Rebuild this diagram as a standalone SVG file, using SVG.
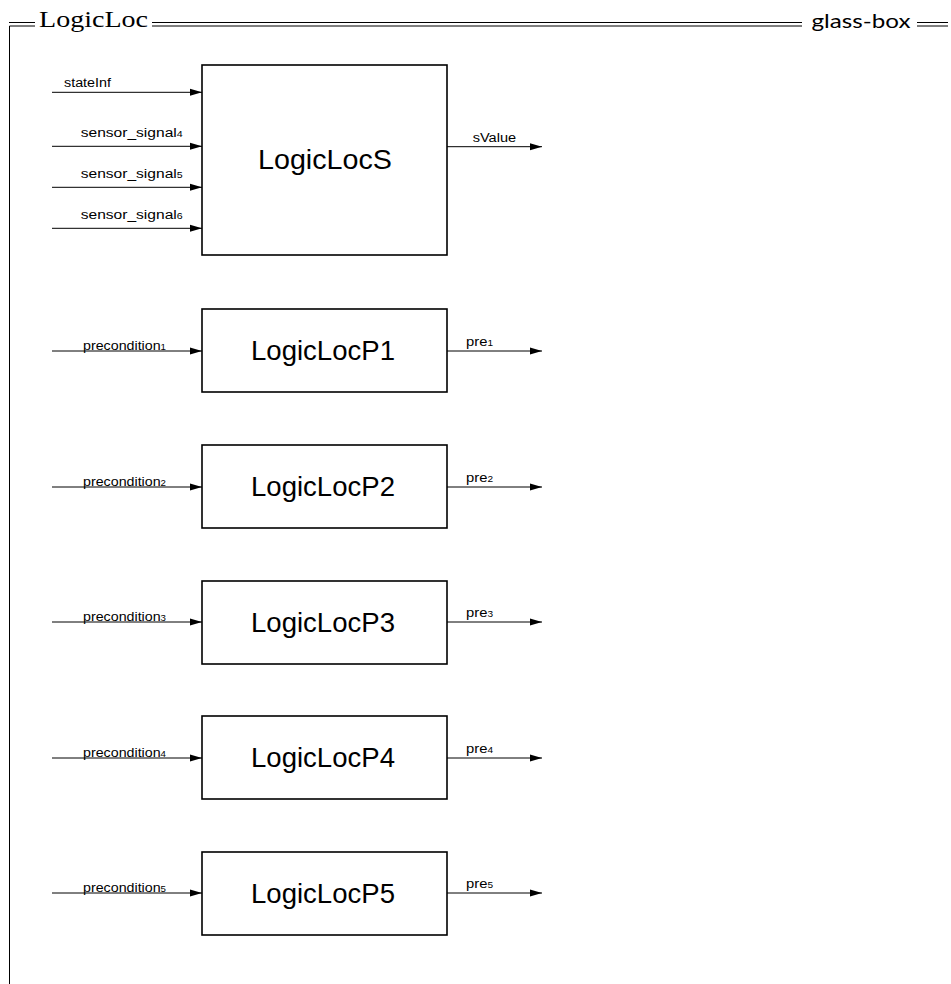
<svg xmlns="http://www.w3.org/2000/svg" width="951" height="984" viewBox="0 0 951 984">
<defs>
<marker id="arr" markerUnits="userSpaceOnUse" markerWidth="13" markerHeight="9" refX="12" refY="4" orient="auto">
<path d="M0,0.5 L12,4 L0,7.5 z" fill="#000"/>
</marker>
<style>
.frame{stroke:#000;stroke-width:1;fill:none}
.box{fill:#fff;stroke:#000;stroke-width:1.6}
.conn{stroke:#000;stroke-width:1;fill:none;marker-end:url(#arr)}
.lbl{font-family:"Liberation Sans",Arial,sans-serif;font-size:12.5px;fill:#000}
.sub{font-size:8.5px}
.name{font-family:"Liberation Sans",Arial,sans-serif;font-size:27px;fill:#000;text-anchor:middle}
.title{font-family:"Liberation Serif","Times New Roman",serif;font-size:23px;fill:#000}
.tag{font-family:Lato,"Open Sans",sans-serif;font-size:20px;fill:#000}
</style>
</defs>
<rect width="951" height="984" fill="#fff"/>
<g id="frame">
<path class="frame" d="M9,22.5 H35 M152,22.5 H802 M917,22.5 H948 M9.5,26 H35 M152,26 H802 M917,26 H948 M9.5,26 V984"/>
<text class="title" x="39" y="27" textLength="109" lengthAdjust="spacingAndGlyphs">LogicLoc</text>
<text class="tag" x="811.5" y="28.3" textLength="99" lengthAdjust="spacingAndGlyphs">glass-box</text>
</g>
<g id="LogicLocS">
<rect class="box" x="202" y="65" width="245" height="190"/>
<text class="name" x="325" y="168.5" textLength="134" lengthAdjust="spacingAndGlyphs">LogicLocS</text>
</g>
<g id="LogicLocP1">
<rect class="box" x="202" y="309" width="245" height="83"/>
<text class="name" x="323" y="360" textLength="144" lengthAdjust="spacingAndGlyphs">LogicLocP1</text>
</g>
<g id="LogicLocP2">
<rect class="box" x="202" y="445" width="245" height="83"/>
<text class="name" x="323" y="496" textLength="144" lengthAdjust="spacingAndGlyphs">LogicLocP2</text>
</g>
<g id="LogicLocP3">
<rect class="box" x="202" y="581" width="245" height="83"/>
<text class="name" x="323" y="631.5" textLength="144" lengthAdjust="spacingAndGlyphs">LogicLocP3</text>
</g>
<g id="LogicLocP4">
<rect class="box" x="202" y="716" width="245" height="83"/>
<text class="name" x="323" y="767" textLength="144" lengthAdjust="spacingAndGlyphs">LogicLocP4</text>
</g>
<g id="LogicLocP5">
<rect class="box" x="202" y="852" width="245" height="83"/>
<text class="name" x="323" y="902.5" textLength="144" lengthAdjust="spacingAndGlyphs">LogicLocP5</text>
</g>
<g id="connectors">
<line class="conn" x1="52" y1="92.3" x2="202" y2="92.3"/>
<text class="lbl" x="64" y="87" textLength="47" lengthAdjust="spacingAndGlyphs">stateInf</text>
<line class="conn" x1="52" y1="146.3" x2="202" y2="146.3"/>
<text class="lbl" x="80.7" y="136.5" textLength="102" lengthAdjust="spacingAndGlyphs">sensor_signal<tspan class="sub">4</tspan></text>
<line class="conn" x1="52" y1="187.3" x2="202" y2="187.3"/>
<text class="lbl" x="80.7" y="177.5" textLength="102" lengthAdjust="spacingAndGlyphs">sensor_signal<tspan class="sub">5</tspan></text>
<line class="conn" x1="52" y1="228.3" x2="202" y2="228.3"/>
<text class="lbl" x="80.7" y="218.5" textLength="102" lengthAdjust="spacingAndGlyphs">sensor_signal<tspan class="sub">6</tspan></text>
<line class="conn" x1="447" y1="146.7" x2="542" y2="146.7"/>
<text class="lbl" x="472.7" y="141.7" textLength="43.5" lengthAdjust="spacingAndGlyphs">sValue</text>

<line class="conn" x1="52" y1="351" x2="202" y2="351"/>
<text class="lbl" x="83" y="349.5" textLength="83" lengthAdjust="spacingAndGlyphs">precondition<tspan class="sub">1</tspan></text>
<line class="conn" x1="447" y1="351" x2="542" y2="351"/>
<text class="lbl" x="466" y="345.5" textLength="27" lengthAdjust="spacingAndGlyphs">pre<tspan class="sub">1</tspan></text>

<line class="conn" x1="52" y1="487" x2="202" y2="487"/>
<text class="lbl" x="83" y="485.5" textLength="83" lengthAdjust="spacingAndGlyphs">precondition<tspan class="sub">2</tspan></text>
<line class="conn" x1="447" y1="487" x2="542" y2="487"/>
<text class="lbl" x="466" y="481.5" textLength="27" lengthAdjust="spacingAndGlyphs">pre<tspan class="sub">2</tspan></text>

<line class="conn" x1="52" y1="622" x2="202" y2="622"/>
<text class="lbl" x="83" y="620.5" textLength="83" lengthAdjust="spacingAndGlyphs">precondition<tspan class="sub">3</tspan></text>
<line class="conn" x1="447" y1="622" x2="542" y2="622"/>
<text class="lbl" x="466" y="616.5" textLength="27" lengthAdjust="spacingAndGlyphs">pre<tspan class="sub">3</tspan></text>

<line class="conn" x1="52" y1="758" x2="202" y2="758"/>
<text class="lbl" x="83" y="756.5" textLength="83" lengthAdjust="spacingAndGlyphs">precondition<tspan class="sub">4</tspan></text>
<line class="conn" x1="447" y1="758" x2="542" y2="758"/>
<text class="lbl" x="466" y="752.5" textLength="27" lengthAdjust="spacingAndGlyphs">pre<tspan class="sub">4</tspan></text>

<line class="conn" x1="52" y1="893" x2="202" y2="893"/>
<text class="lbl" x="83" y="891.5" textLength="83" lengthAdjust="spacingAndGlyphs">precondition<tspan class="sub">5</tspan></text>
<line class="conn" x1="447" y1="893" x2="542" y2="893"/>
<text class="lbl" x="466" y="887.5" textLength="27" lengthAdjust="spacingAndGlyphs">pre<tspan class="sub">5</tspan></text>
</g>
</svg>
